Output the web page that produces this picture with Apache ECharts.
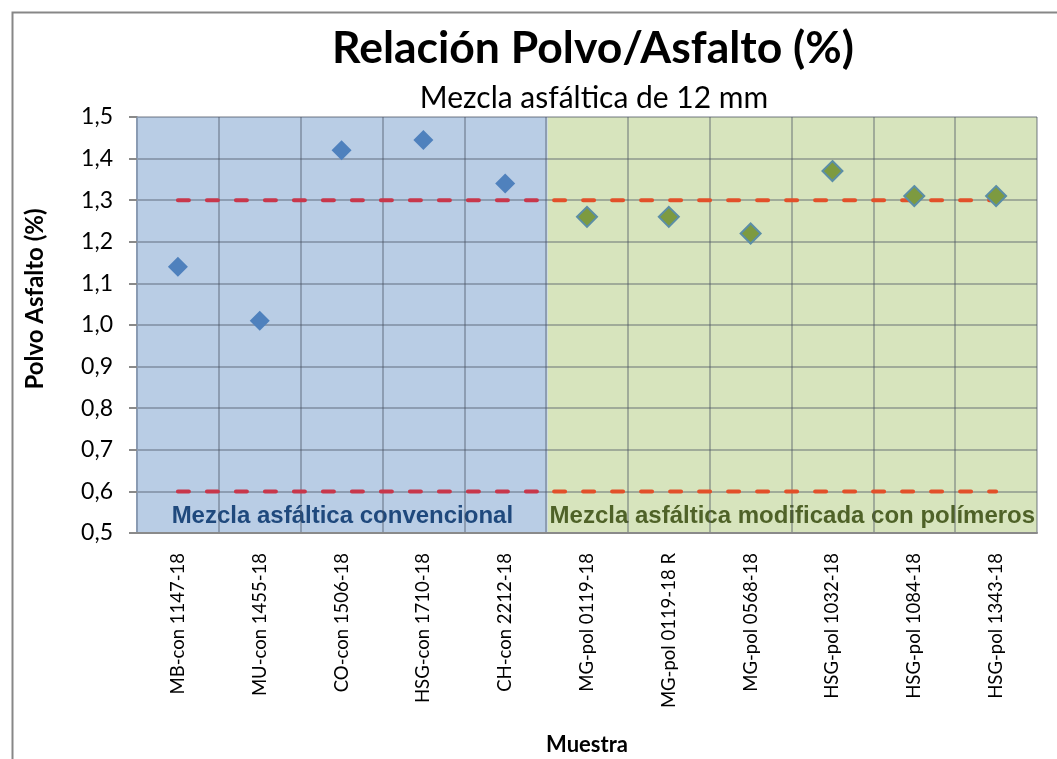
<!DOCTYPE html>
<html>
<head>
<meta charset="utf-8">
<script src="https://cdn.jsdelivr.net/npm/echarts@6/dist/echarts.min.js"></script>
<style>
  html, body { margin: 0; padding: 0; background: #fff; }
  #main { width: 1057px; height: 759px; }
</style>
</head>
<body>
<div id="main"></div>
<script>
// muestras de mezcla convencional y modificada
var convCategories = ['MB-con 1147-18', 'MU-con 1455-18', 'CO-con 1506-18', 'HSG-con 1710-18', 'CH-con 2212-18'];
var polCategories = ['MG-pol 0119-18', 'MG-pol 0119-18 R', 'MG-pol 0568-18', 'HSG-pol 1032-18', 'HSG-pol 1084-18', 'HSG-pol 1343-18'];
var convValues = [1.14, 1.01, 1.42, 1.445, 1.34];
var polValues = [1.26, 1.26, 1.22, 1.37, 1.31, 1.31];
// limites de especificacion
var limiteMax = 1.3;
var limiteMin = 0.6;
var yTicks = [0.5, 1.5, 0.1];

var categories = convCategories.concat(polCategories);
var nConv = convCategories.length;
var nTotal = categories.length;

var main = document.getElementById('main');
var chart = echarts.init(main);

var calibri = 'Lato, "Open Sans", sans-serif';
var arial = '"Liberation Sans", Arial, sans-serif';

function pares(cats, vals) {
    return cats.map(function (c, i) { return [c, vals[i]]; });
}

// linea de limite, partida en el cambio de fondo (eje de valores oculto)
function limite(valor, desde, hasta, color, offset) {
    return {
        type: 'line',
        xAxisIndex: 1,
        data: [[desde, valor], [hasta, valor]],
        showSymbol: false,
        silent: true,
        z: 8,
        lineStyle: { color: color, width: 4, type: [11, 18], dashOffset: offset, cap: 'round' }
    };
}

var option = {
    animation: false,
    title: [
        {
            text: 'Relación Polvo/Asfalto (%)',
            left: 588, top: 21, textAlign: 'center',
            textStyle: { fontFamily: calibri, fontSize: 44.5, fontWeight: 'bold', color: '#000' }
        },
        {
            text: 'Mezcla asfáltica de 12 mm',
            left: 589, top: 78, textAlign: 'center',
            textStyle: { fontFamily: calibri, fontSize: 30, fontWeight: 'normal', color: '#000' }
        }
    ],
    graphic: [
        {
            type: 'rect', left: 10, top: 10, silent: true,
            shape: { width: 1100, height: 800 },
            style: { fill: 'none', stroke: '#878787', lineWidth: 2 }
        },
        {
            type: 'text', x: 35, y: 299, rotation: Math.PI / 2,
            style: {
                text: 'Polvo Asfalto (%)', fill: '#000',
                font: 'bold 24px ' + calibri, align: 'center', verticalAlign: 'middle'
            }
        }
    ],
    grid: { left: 137, right: 20, top: 117, bottom: 226, outerBoundsMode: 'none', containLabel: false },
    xAxis: [
        {
            type: 'category',
            data: categories,
            z: 5,
            name: 'Muestra',
            nameLocation: 'middle',
            nameGap: 201,
            nameTextStyle: { fontFamily: calibri, fontSize: 22, fontWeight: 'bold', color: '#000' },
            axisLine: { lineStyle: { color: '#8a8a8a', width: 2 } },
            axisTick: { length: 7, lineStyle: { color: '#8a8a8a', width: 2 } },
            axisLabel: {
                rotate: 90, margin: 20, interval: 0,
                fontFamily: calibri, fontSize: 18.5, color: '#000'
            },
            splitLine: { show: true, lineStyle: { color: 'rgba(70,80,95,0.38)', width: 2 } }
        },
        {
            type: 'value', show: false,
            min: 0, max: nTotal
        }
    ],
    yAxis: {
        type: 'value',
        min: yTicks[0], max: yTicks[1], interval: yTicks[2],
        z: 5,
        axisLine: { show: true, lineStyle: { color: '#8a9bb3', width: 2 } },
        axisTick: { show: true, length: 8, lineStyle: { color: '#8a8a8a', width: 2 } },
        axisLabel: {
            margin: 24, fontFamily: calibri, fontSize: 23, color: '#000',
            formatter: function (v) { return v.toFixed(1).replace('.', ','); }
        },
        splitLine: { show: true, lineStyle: { color: 'rgba(70,80,95,0.38)', width: 2 } }
    },
    series: [
        {
            // fondos de cada tipo de mezcla
            type: 'scatter',
            xAxisIndex: 1,
            data: [],
            z: 1,
            clip: false,
            silent: true,
            markArea: {
                silent: true,
                z: 1,
                label: {
                    position: 'insideBottom', distance: 5,
                    fontFamily: arial, fontSize: 24, fontWeight: 'bold'
                },
                data: [
                    [
                        {
                            name: 'Mezcla asfáltica convencional',
                            xAxis: -0.09,
                            itemStyle: { color: '#b9cde5' },
                            label: { color: '#1f497d' }
                        },
                        { xAxis: nConv + 0.02 }
                    ],
                    [
                        {
                            name: 'Mezcla asfáltica modificada con polímeros',
                            xAxis: nConv + 0.02,
                            itemStyle: { color: '#d7e4bd' },
                            label: { color: '#4f6228' }
                        },
                        { xAxis: nTotal + 0.11 }
                    ]
                ]
            }
        },
        limite(limiteMax, 0.5, nConv, '#c8374b', 0),
        limite(limiteMax, nConv, nTotal - 0.5, '#e2502a', 21),
        limite(limiteMin, 0.5, nConv, '#c8374b', 0),
        limite(limiteMin, nConv, nTotal - 0.5, '#e2502a', 21),
        {
            name: 'Convencional',
            type: 'scatter',
            symbol: 'diamond',
            symbolSize: 20,
            z: 10,
            data: pares(convCategories, convValues),
            itemStyle: { color: '#4f81bd', opacity: 1 }
        },
        {
            name: 'Polímeros',
            type: 'scatter',
            symbol: 'diamond',
            symbolSize: 20,
            z: 10,
            data: pares(polCategories, polValues),
            itemStyle: { color: '#7d9a40', borderColor: '#5b8ea6', borderWidth: 2, opacity: 1 }
        }
    ]
};

chart.setOption(option);
</script>
</body>
</html>
